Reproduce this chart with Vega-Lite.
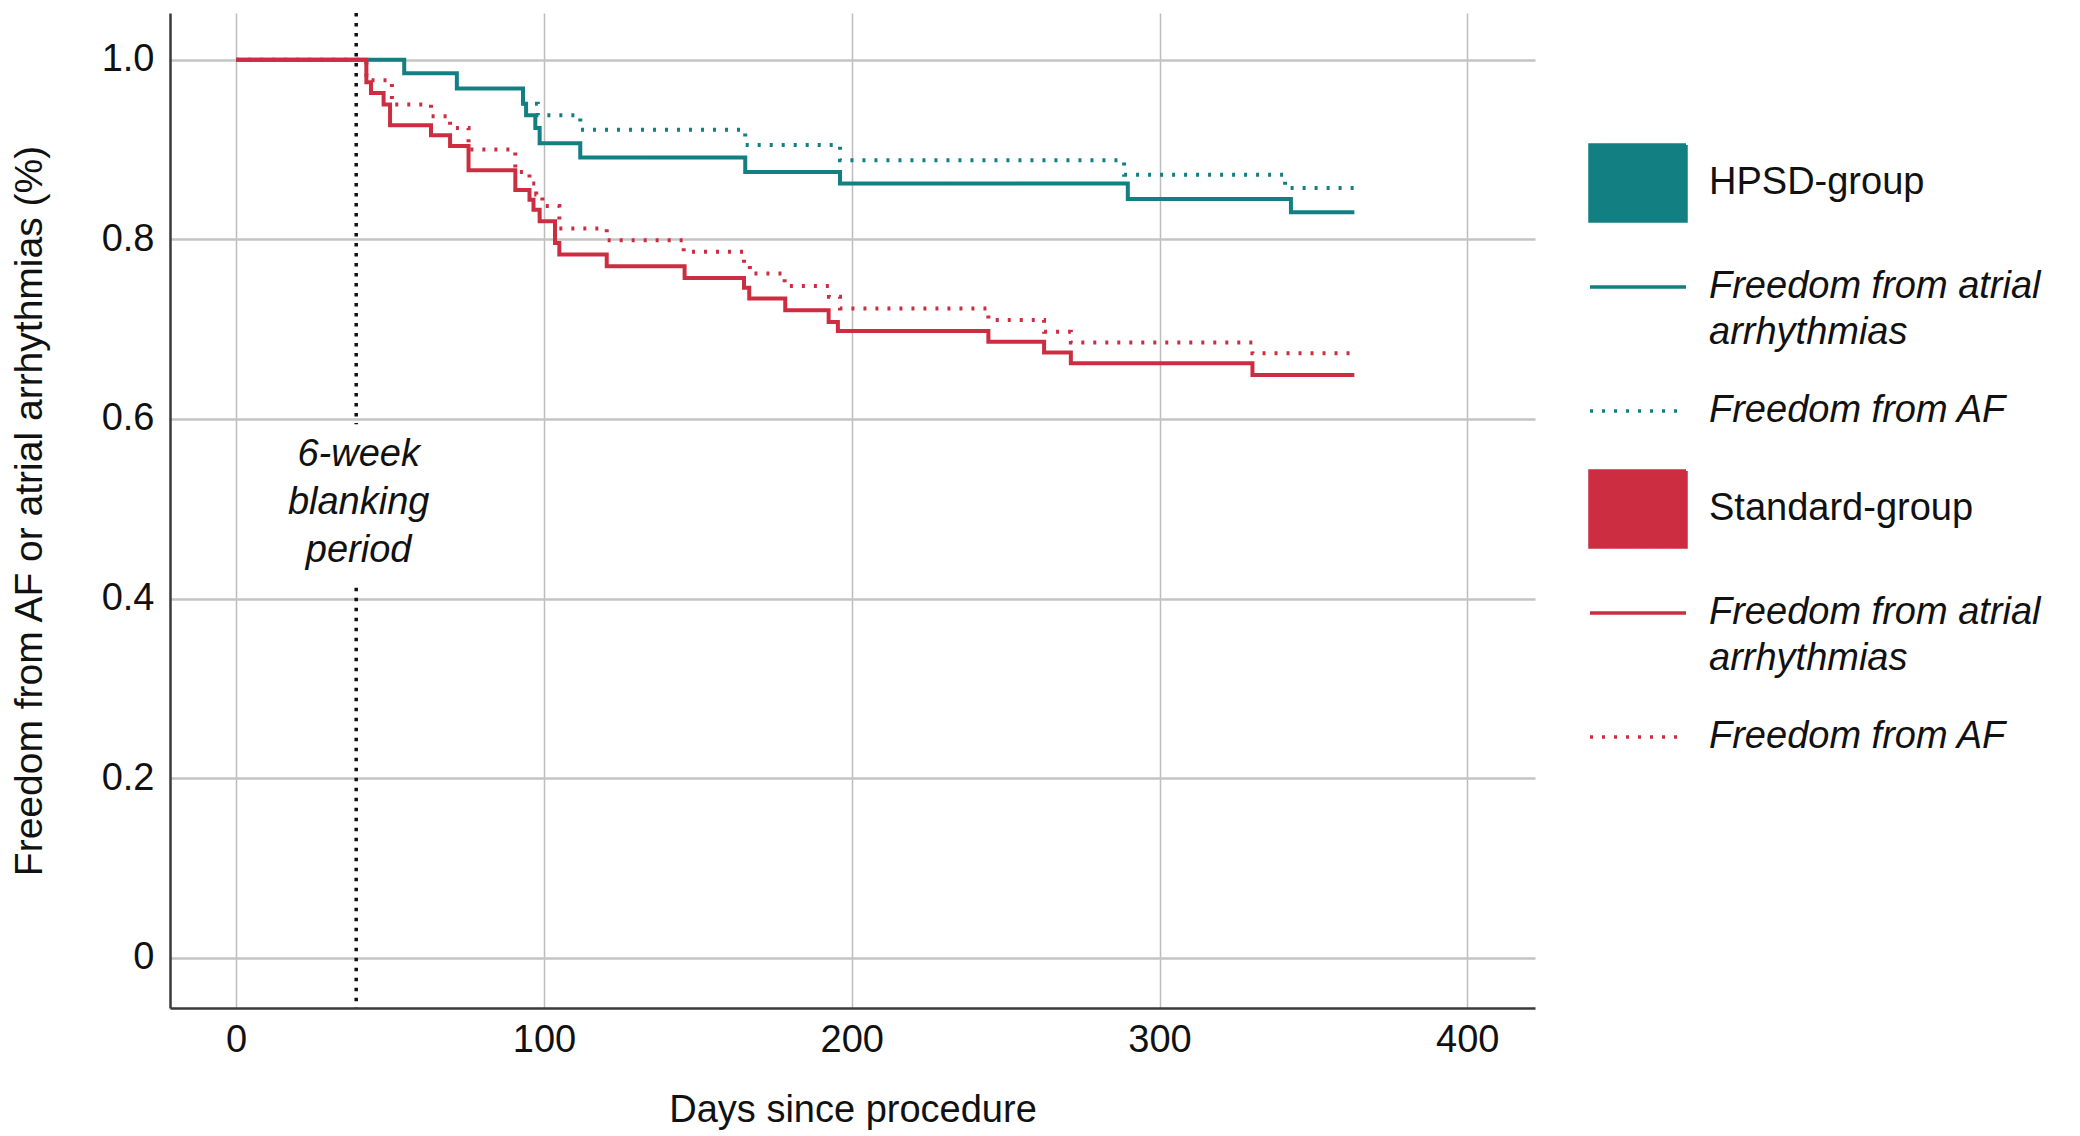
{
  "$schema": "https://vega.github.io/schema/vega-lite/v6.json",
  "width": 1365,
  "height": 995,
  "autosize": "none",
  "padding": {"left": 170, "top": 13, "right": 545, "bottom": 128},
  "background": "white",
  "config": {
    "view": {"stroke": null},
    "font": "Liberation Sans",
    "axis": {
      "labelFont": "Liberation Sans",
      "titleFont": "Liberation Sans",
      "labelFontSize": 38,
      "titleFontSize": 38,
      "titleFontWeight": "normal",
      "labelColor": "#111111",
      "titleColor": "#111111",
      "ticks": false,
      "domainColor": "#3a3a3a",
      "domainWidth": 2.5,
      "gridColor": "#c4c4c4"
    }
  },
  "datasets": {
    "km": [
      {"series": "HPSD AA", "day": 0, "s": 1.0},
      {"series": "HPSD AA", "day": 54.6, "s": 0.985},
      {"series": "HPSD AA", "day": 71.7, "s": 0.968},
      {"series": "HPSD AA", "day": 93.2, "s": 0.951},
      {"series": "HPSD AA", "day": 94.2, "s": 0.938},
      {"series": "HPSD AA", "day": 97.2, "s": 0.924},
      {"series": "HPSD AA", "day": 98.6, "s": 0.907},
      {"series": "HPSD AA", "day": 111.8, "s": 0.891},
      {"series": "HPSD AA", "day": 165.4, "s": 0.875},
      {"series": "HPSD AA", "day": 196.2, "s": 0.862},
      {"series": "HPSD AA", "day": 289.7, "s": 0.845},
      {"series": "HPSD AA", "day": 342.7, "s": 0.830},
      {"series": "HPSD AA", "day": 363.3, "s": 0.830},
      {"series": "HPSD AF", "day": 93.2, "s": 0.951},
      {"series": "HPSD AF", "day": 98.0, "s": 0.938},
      {"series": "HPSD AF", "day": 111.8, "s": 0.922},
      {"series": "HPSD AF", "day": 165.4, "s": 0.905},
      {"series": "HPSD AF", "day": 196.2, "s": 0.888},
      {"series": "HPSD AF", "day": 288.5, "s": 0.872},
      {"series": "HPSD AF", "day": 340.8, "s": 0.857},
      {"series": "HPSD AF", "day": 363.3, "s": 0.857},
      {"series": "Std AA", "day": 0, "s": 1.0},
      {"series": "Std AA", "day": 42.3, "s": 0.975},
      {"series": "Std AA", "day": 43.8, "s": 0.963},
      {"series": "Std AA", "day": 47.9, "s": 0.950},
      {"series": "Std AA", "day": 50.0, "s": 0.927},
      {"series": "Std AA", "day": 63.3, "s": 0.916},
      {"series": "Std AA", "day": 69.5, "s": 0.904},
      {"series": "Std AA", "day": 75.5, "s": 0.877},
      {"series": "Std AA", "day": 90.7, "s": 0.855},
      {"series": "Std AA", "day": 95.3, "s": 0.844},
      {"series": "Std AA", "day": 96.6, "s": 0.833},
      {"series": "Std AA", "day": 98.6, "s": 0.820},
      {"series": "Std AA", "day": 103.6, "s": 0.796},
      {"series": "Std AA", "day": 105.0, "s": 0.783},
      {"series": "Std AA", "day": 120.4, "s": 0.770},
      {"series": "Std AA", "day": 145.7, "s": 0.757},
      {"series": "Std AA", "day": 165.0, "s": 0.746},
      {"series": "Std AA", "day": 166.7, "s": 0.734},
      {"series": "Std AA", "day": 178.4, "s": 0.721},
      {"series": "Std AA", "day": 192.5, "s": 0.708},
      {"series": "Std AA", "day": 195.5, "s": 0.698},
      {"series": "Std AA", "day": 244.4, "s": 0.686},
      {"series": "Std AA", "day": 262.5, "s": 0.674},
      {"series": "Std AA", "day": 271.2, "s": 0.662},
      {"series": "Std AA", "day": 330.2, "s": 0.649},
      {"series": "Std AA", "day": 363.3, "s": 0.649},
      {"series": "Std AF", "day": 0, "s": 1.0},
      {"series": "Std AF", "day": 42.3, "s": 0.977},
      {"series": "Std AF", "day": 50.6, "s": 0.950},
      {"series": "Std AF", "day": 63.3, "s": 0.937},
      {"series": "Std AF", "day": 69.5, "s": 0.924},
      {"series": "Std AF", "day": 75.5, "s": 0.900},
      {"series": "Std AF", "day": 90.7, "s": 0.875},
      {"series": "Std AF", "day": 95.3, "s": 0.862},
      {"series": "Std AF", "day": 97.5, "s": 0.850},
      {"series": "Std AF", "day": 99.5, "s": 0.837},
      {"series": "Std AF", "day": 105.0, "s": 0.812},
      {"series": "Std AF", "day": 120.4, "s": 0.799},
      {"series": "Std AF", "day": 145.4, "s": 0.786},
      {"series": "Std AF", "day": 165.0, "s": 0.773},
      {"series": "Std AF", "day": 166.9, "s": 0.762},
      {"series": "Std AF", "day": 178.2, "s": 0.748},
      {"series": "Std AF", "day": 192.6, "s": 0.736},
      {"series": "Std AF", "day": 196.2, "s": 0.723},
      {"series": "Std AF", "day": 244.4, "s": 0.710},
      {"series": "Std AF", "day": 262.5, "s": 0.697},
      {"series": "Std AF", "day": 271.2, "s": 0.685},
      {"series": "Std AF", "day": 330.2, "s": 0.673},
      {"series": "Std AF", "day": 363.3, "s": 0.673}
    ],
    "blank": [
      {"day": 39, "top": 1.052, "bottom": 0.594},
      {"day": 39, "top": 0.412, "bottom": -0.056}
    ],
    "note": [
      {"day": 39.8, "s": 0.56, "label": "6-week\nblanking\nperiod"}
    ]
  },
  "encoding": {
    "x": {
      "field": "day",
      "type": "quantitative",
      "scale": {"domain": [-21.5, 422], "nice": false, "zero": false},
      "axis": {
        "values": [0, 100, 200, 300, 400],
        "title": "Days since procedure",
        "labelPadding": 13,
        "titlePadding": 32,
        "gridWidth": 1.5,
        "gridColor": "#bdbdbd"
      }
    }
  },
  "layer": [
    {
      "data": {"name": "blank"},
      "mark": {"type": "rule", "color": "#111111", "strokeWidth": 3.5, "strokeDash": [3.5, 6.5]},
      "encoding": {
        "y": {"field": "top", "type": "quantitative"},
        "y2": {"field": "bottom"}
      }
    },
    {
      "data": {"name": "note"},
      "mark": {
        "type": "text",
        "fontStyle": "italic",
        "fontSize": 38,
        "lineBreak": "\n",
        "lineHeight": 48,
        "baseline": "middle",
        "align": "center",
        "color": "#111111",
        "font": "Liberation Sans"
      },
      "encoding": {
        "y": {"field": "s", "type": "quantitative"},
        "text": {"field": "label", "type": "nominal"}
      }
    },
    {
      "data": {"name": "km"},
      "transform": [{"filter": "datum.series == 'HPSD AF'"}],
      "mark": {"type": "line", "interpolate": "step-after", "strokeWidth": 4},
      "encoding": {
        "y": {
          "field": "s",
          "type": "quantitative",
          "scale": {"domain": [-0.056, 1.052], "nice": false, "zero": false},
          "axis": {
            "values": [0, 0.2, 0.4, 0.6, 0.8, 1.0],
            "labelExpr": "datum.value == 0 ? '0' : format(datum.value, '.1f')",
            "title": "Freedom from AF or atrial arrhythmias (%)",
            "titleFontSize": 39,
            "labelPadding": 16,
            "titlePadding": 52,
            "gridWidth": 2.5
          }
        },
        "color": {
          "field": "series",
          "type": "nominal",
          "scale": {
            "domain": ["HPSD-group", "HPSD AA", "HPSD AF", "Standard-group", "Std AA", "Std AF"],
            "range": ["#127f82", "#127f82", "#127f82", "#cd2d41", "#cd2d41", "#cd2d41"]
          },
          "legend": {
            "orient": "none",
            "legendX": 1418,
            "legendY": 120,
            "title": null,
            "padding": 0,
            "symbolSize": 9216,
            "symbolStrokeWidth": 3.5,
            "labelOffset": 21,
            "labelFontSize": 38,
            "labelFont": "Liberation Sans",
            "labelColor": "#111111",
            "labelLimit": 0,
            "rowPadding": 9,
            "labelExpr": "datum.value == 'HPSD-group' ? 'HPSD-group' : datum.value == 'Standard-group' ? 'Standard-group' : (datum.value == 'HPSD AA' || datum.value == 'Std AA') ? ['Freedom from atrial', 'arrhythmias'] : ['Freedom from AF', '']",
            "encode": {
              "symbols": {
                "update": {
                  "shape": {"signal": "datum.value == 'HPSD-group' || datum.value == 'Standard-group' ? 'M-1,-0.79H1V0.79H-1Z' : 'stroke'"},
                  "fill": {"signal": "datum.value == 'HPSD-group' ? '#127f82' : datum.value == 'Standard-group' ? '#cd2d41' : 'transparent'"}
                }
              },
              "labels": {
                "update": {
                  "fontStyle": {"signal": "datum.value == 'HPSD-group' || datum.value == 'Standard-group' ? 'normal' : 'italic'"},
                  "lineHeight": {"signal": "datum.value == 'HPSD AF' || datum.value == 'Std AF' ? 20 : 46"}
                }
              }
            }
          }
        },
        "strokeDash": {
          "field": "series",
          "type": "nominal",
          "scale": {
            "domain": ["HPSD-group", "HPSD AA", "HPSD AF", "Standard-group", "Std AA", "Std AF"],
            "range": [[1, 0], [1, 0], [3, 9], [1, 0], [1, 0], [3, 9]]
          }
        }
      }
    },
    {
      "data": {"name": "km"},
      "transform": [{"filter": "datum.series == 'Std AF'"}],
      "mark": {"type": "line", "interpolate": "step-after", "strokeWidth": 4},
      "encoding": {
        "y": {"field": "s", "type": "quantitative"},
        "color": {"field": "series", "type": "nominal"},
        "strokeDash": {"field": "series", "type": "nominal"}
      }
    },
    {
      "data": {"name": "km"},
      "transform": [{"filter": "datum.series == 'HPSD AA'"}],
      "mark": {"type": "line", "interpolate": "step-after", "strokeWidth": 4},
      "encoding": {
        "y": {"field": "s", "type": "quantitative"},
        "color": {"field": "series", "type": "nominal"},
        "strokeDash": {"field": "series", "type": "nominal"}
      }
    },
    {
      "data": {"name": "km"},
      "transform": [{"filter": "datum.series == 'Std AA'"}],
      "mark": {"type": "line", "interpolate": "step-after", "strokeWidth": 4},
      "encoding": {
        "y": {"field": "s", "type": "quantitative"},
        "color": {"field": "series", "type": "nominal"},
        "strokeDash": {"field": "series", "type": "nominal"}
      }
    }
  ]
}
